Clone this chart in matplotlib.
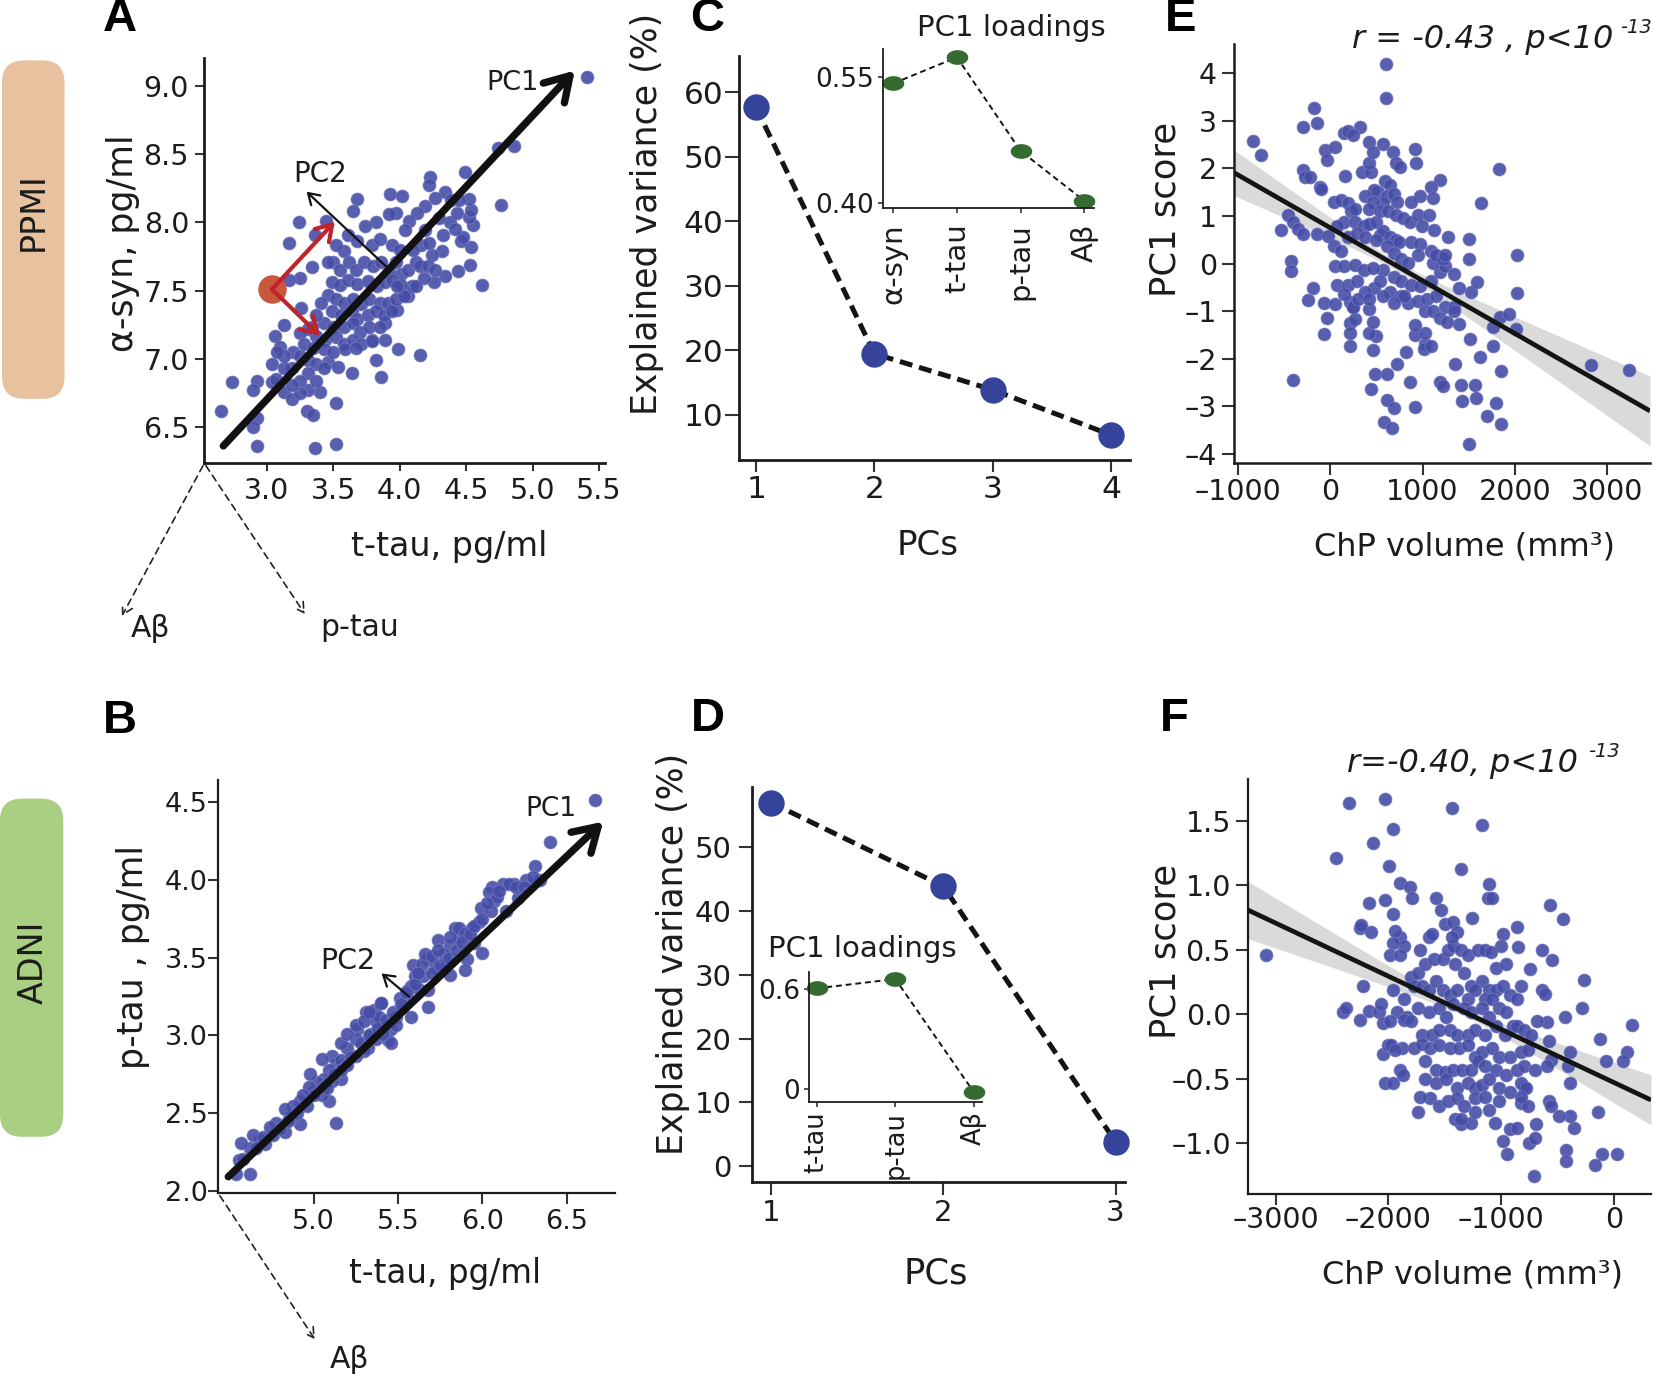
import numpy as np
import matplotlib
matplotlib.use("Agg")
import matplotlib.pyplot as plt
from matplotlib.patches import FancyBboxPatch, FancyArrowPatch
from matplotlib.transforms import IdentityTransform
from matplotlib.path import Path
from matplotlib.ticker import FuncFormatter, FixedLocator

# ---------------- data ----------------
# Panel A: PPMI alpha-syn vs t-tau
ppmi_ttau = [5.41, 4.74, 4.86, 4.76, 4.49, 4.23, 4.22, 3.93, 4.02, 3.68, 3.65, 3.24, 3.17, 3.45, 3.36, 3.34, 3.25, 3.17,
             3.26, 3.13, 3.06, 3.20, 3.10, 3.04, 2.93, 2.74, 2.90, 3.04, 3.13, 3.19, 2.66, 2.93, 2.90, 2.93, 3.30, 3.35,
             3.36, 3.52, 3.52, 3.40, 3.31, 3.46, 3.54, 3.64, 3.82, 3.86, 3.99, 4.15, 3.79, 3.89, 3.89, 3.98, 4.06, 4.09,
             4.62, 4.53, 4.44, 4.34, 4.26, 4.18, 4.54, 4.55, 4.52, 4.54, 4.52, 4.46, 4.48, 4.38, 4.34, 4.39, 4.27, 4.19,
             4.13, 4.07, 4.04, 3.97, 3.92, 3.82, 3.74, 4.32, 4.24, 4.16, 4.10, 4.33, 4.22, 3.61, 3.68, 3.79, 3.85, 3.94,
             4.00, 3.58, 3.50, 3.55, 3.62, 3.67, 3.73, 3.80, 3.86, 3.92, 3.97, 4.01,
             3.49, 3.55, 3.61, 3.68, 3.76, 3.83, 3.89, 3.94, 4.01,
             3.46, 3.52, 3.58, 3.65, 3.71, 3.77, 3.85, 3.91, 3.97, 4.03,
             3.41, 3.49, 3.56, 3.64, 3.68, 3.76, 3.82, 3.88, 3.94,
             3.43, 3.50, 3.58, 3.65, 3.70, 3.77, 3.85,
             3.37, 3.44, 3.52, 3.58, 3.65, 3.71, 3.79,
             3.31, 3.25, 3.28, 3.35, 3.43, 3.50, 3.59, 3.67,
             3.25, 3.31, 3.37, 3.43, 3.31, 3.37, 3.25, 3.19,
             3.13, 3.07, 3.25, 3.19, 3.13, 3.08, 3.37, 3.34, 3.52, 3.46,
             4.06, 4.12, 4.15, 4.21, 4.27, 4.12, 3.98, 4.19, 4.42, 4.43, 4.45, 4.30]
ppmi_asyn = [9.06, 8.54, 8.56, 8.13, 8.37, 8.33, 8.27, 8.21, 8.19, 8.17, 8.08, 8.00, 7.85, 8.01, 7.91, 7.67, 7.59, 7.58,
             7.37, 7.25, 7.17, 7.05, 7.09, 6.96, 6.84, 6.83, 6.77, 6.83, 6.76, 6.71, 6.62, 6.57, 6.50, 6.36, 6.62, 6.59,
             6.35, 6.38, 6.68, 6.76, 6.77, 6.98, 6.94, 6.90, 6.99, 6.87, 7.07, 7.03, 7.14, 7.14, 7.26, 7.36, 7.46, 7.53,
             7.54, 7.69, 7.64, 7.61, 7.56, 7.59, 7.82, 7.98, 8.04, 8.09, 8.17, 7.86, 7.89, 8.00, 8.22, 8.16, 8.18, 8.12,
             8.07, 8.01, 7.94, 8.07, 8.06, 8.00, 7.97, 7.79, 7.76, 7.83, 7.80, 7.91, 7.85, 7.91, 7.86, 7.83, 7.88, 7.83,
             7.80, 7.79, 7.71, 7.65, 7.71, 7.65, 7.71, 7.68, 7.71, 7.64, 7.71, 7.62,
             7.56, 7.54, 7.58, 7.55, 7.57, 7.53, 7.56, 7.58, 7.54,
             7.47, 7.44, 7.41, 7.44, 7.40, 7.44, 7.41, 7.41, 7.44, 7.46,
             7.41, 7.35, 7.32, 7.35, 7.29, 7.32, 7.35, 7.32, 7.35,
             7.26, 7.23, 7.23, 7.26, 7.20, 7.23, 7.23,
             7.17, 7.14, 7.16, 7.11, 7.14, 7.11, 7.13,
             7.22, 7.19, 7.11, 7.08, 7.07, 7.05, 7.07, 7.08,
             7.02, 6.99, 6.96, 6.93, 6.90, 6.84, 6.84, 6.93,
             6.93, 6.85, 6.75, 6.81, 7.02, 7.05, 7.32, 7.23, 7.83, 7.71,
             7.65, 7.71, 7.68, 7.68, 7.65, 7.53, 7.53, 7.94, 7.95, 8.07, 8.16, 8.03]

# Panel B: ADNI p-tau vs t-tau
adni_ttau = [6.67, 6.40, 6.31, 6.34, 6.21, 6.14, 6.19, 6.12, 6.06, 6.04, 6.07, 5.99, 6.05, 6.09, 6.16, 6.26,
             6.00, 5.95, 5.91, 5.90, 5.87, 5.84, 5.81, 5.79, 5.81, 5.77, 5.74, 5.72, 5.67, 5.65, 5.68, 5.68, 5.63, 5.59,
             5.58, 5.56, 5.58, 5.53, 5.49, 5.46, 5.44, 5.41, 5.40, 5.37, 5.34, 5.32, 5.31, 5.26, 5.25, 5.20, 5.18, 5.16,
             5.13, 5.16, 5.11, 5.09, 5.06, 5.13, 5.02, 4.99, 4.97, 4.96, 4.92, 4.92, 4.88, 4.86, 4.83, 4.83, 4.78, 4.76,
             4.74, 4.71, 4.68, 4.64, 4.62, 4.57, 4.56, 4.54, 4.62, 4.58,
             5.16, 5.20, 5.25, 5.30, 5.36, 5.39, 5.51, 5.56, 5.60, 5.64, 5.66, 5.70, 5.74, 5.81, 5.86, 5.90, 5.94, 5.98,
             5.37, 5.41, 5.46, 5.49, 5.30, 5.25, 5.20, 5.16, 5.11, 5.06, 5.09, 5.05,
             5.05, 4.98, 5.00, 4.94, 4.90, 4.85, 4.80, 4.70, 4.66, 5.08, 5.12, 5.22, 5.28, 5.33, 5.38, 5.43, 5.47, 5.52,
             5.55, 5.60, 5.62, 5.70, 5.75, 5.80, 5.85, 5.88, 5.93, 5.95, 6.00, 6.03, 6.10, 6.20, 6.25, 6.30, 5.33, 5.40]
adni_ptau = [4.51, 4.24, 4.09, 4.00, 3.88, 3.80, 3.97, 3.97, 3.95, 3.92, 3.86, 3.82, 3.80, 3.89, 3.97, 4.00,
             3.53, 3.59, 3.49, 3.42, 3.63, 3.69, 3.58, 3.46, 3.39, 3.52, 3.61, 3.43, 3.49, 3.38, 3.29, 3.18, 3.29, 3.45,
             3.32, 3.24, 3.12, 3.18, 3.12, 3.04, 2.97, 3.07, 3.21, 3.09, 3.01, 2.92, 3.15, 3.04, 2.98, 2.92, 2.81, 2.72,
             2.81, 2.95, 2.87, 2.78, 2.72, 2.44, 2.70, 2.64, 2.67, 2.55, 2.58, 2.43, 2.55, 2.47, 2.53, 2.38, 2.44, 2.36,
             2.41, 2.30, 2.33, 2.36, 2.28, 2.31, 2.20, 2.11, 2.11, 2.21,
             2.84, 3.01, 3.07, 3.09, 3.16, 3.12, 3.24, 3.29, 3.38, 3.46, 3.52, 3.51, 3.55, 3.63, 3.69, 3.66, 3.69, 3.73,
             2.98, 3.01, 2.95, 3.07, 2.90, 2.87, 2.81, 2.78, 2.71, 2.67, 2.58, 2.62,
             2.85, 2.75, 2.62, 2.62, 2.50, 2.45, 2.40, 2.35, 2.28, 2.66, 2.75, 2.86, 2.95, 3.00, 3.05, 3.10, 3.15, 3.20,
             3.28, 3.33, 3.40, 3.40, 3.45, 3.50, 3.55, 3.60, 3.65, 3.70, 3.75, 3.85, 3.93, 3.95, 3.95, 4.02, 3.15, 3.21]

# Panel C: PPMI explained variance and PC1 loadings
ppmi_pcs = [1, 2, 3, 4]
ppmi_explained = [57.7, 19.5, 13.9, 6.9]
ppmi_markers = ["\u03b1-syn", "t-tau", "p-tau", "A\u03b2"]
ppmi_loadings = [0.542, 0.573, 0.462, 0.403]

# Panel D: ADNI explained variance and PC1 loadings
adni_pcs = [1, 2, 3]
adni_explained = [57.0, 43.9, 3.8]
adni_markers = ["t-tau", "p-tau", "A\u03b2"]
adni_loadings = [0.604, 0.660, -0.02]

# Panel E: PPMI PC1 score vs ChP volume
ppmi_chp = [604, 604, -832, -752, -171, -140, -297, 326, 154, 192, 249, 421, 574, 681, 918, 929, 708, 757, -56, 58,
            -37, -297, -267, -217, -114, -95, 165, 345, 440, 421, 459, 1185, 1090, 1109, 975, 872, 1827, 1636, 1502,
            1502, 2025, 2025, 1281, -534, -458, -400, -343, -297, -144, -18, -419, -427, -190, -236, -68, -30, -68, 58,
            -400, 211, 249, 215, 211, 215, 268, 440, 490, 612, 620, 688, 585, 669, 459, 497, 421, 459, 421, 478, 574,
            727, 822, 918, 868, 918, 918, 1032, 1013, 1090, 1032, 1185, 1223, 1357, 1414, 1426, 1567, 1579, 1617, 1502,
            1701, 1796, 1846, 1846, 1766, 1395, 1510, 1529, 1586, 2828, 3236, 1842, 1938, 1758, 2014,
            39, 115, 192, 230, 268, 154, 77, 268, 364, 421, 497, 517, 478, 593, 650, 612, 688, 727, 574, 383, 459, 421,
            536, 631, 708, 784, 860, 956, 1070, 994, 536, 574, 650, 708, 746, 879, 975, 1090, 1128, 39, 115, 192, 287,
            383, 497, 612, 688, 765, 841, 956, 58, 154, 268, 364, 459, 688, 765, 879, 975, 1090, 1185, 1242, 1338, 77,
            192, 287, 383, 536, 650, 765, 841, 956, 1051, 1147, 1242, 1338, 1395, 154, 249, 306, 421, 574, 688, 803,
            1032, 1109, 1185, 1261, 1338, 1109, 1147, 1223, 1242]
ppmi_pc1 = [4.20, 3.48, 2.57, 2.28, 3.26, 2.96, 2.88, 2.88, 2.74, 2.78, 2.70, 2.55, 2.51, 2.35, 2.41, 2.12, 2.12, 2.04,
            2.39, 2.45, 2.17, 1.97, 1.82, 1.82, 1.62, 1.56, 1.85, 1.93, 1.93, 2.12, 2.35, 1.75, 1.62, 1.38, 1.42, 1.30,
            1.98, 1.27, 0.52, 0.10, 0.19, -0.62, 0.57, 0.71, 1.02, 0.88, 0.72, 0.63, 0.63, 0.58, 0.06, -0.15, -0.52,
            -0.77, -0.83, -1.14, -1.47, -0.85, -2.45, -0.80, -0.91, -1.24, -1.46, -1.73, -1.16, -2.64, -2.31, -2.31,
            -2.87, -3.04, -3.32, -3.46, -1.81, -1.53, -1.45, -1.22, -0.95, -0.52, -0.13, -2.11, -1.86, -3.01, -2.48,
            -1.49, -1.28, -1.68, -1.80, -1.72, -1.45, -2.48, -2.58, -2.10, -2.54, -2.89, -2.54, -2.82, -1.96, -3.79,
            -3.20, -2.93, -3.36, -2.26, -1.72, -1.26, -1.59, -0.60, -0.38, -2.14, -2.23, -1.13, -1.06, -1.34, -1.37,
            1.30, 1.34, 1.27, 1.11, 1.15, 0.88, 0.80, 0.88, 0.80, 0.84, 0.88, 1.50, 1.54, 1.73, 1.65, 1.42, 1.46, 1.30,
            1.27, 1.42, 1.30, 1.15, 1.11, 1.11, 1.03, 0.96, 0.88, 1.03, 1.03, 0.80, 0.61, 0.68, 0.57, 0.49, 0.45, 0.45,
            0.41, 0.26, 0.71, 0.37, 0.26, 0.57, 0.64, 0.57, 0.49, 0.37, 0.22, 0.10, 0.02, 0.18, -0.04, -0.05, -0.02,
            -0.13, -0.09, -0.29, -0.37, -0.44, -0.48, -0.37, -0.17, -0.05, -0.21, -0.44, -0.44, -0.37, -0.60, -0.37,
            -0.60, -0.68, -0.83, -0.79, -0.75, -0.68, -0.91, -0.91, -0.52, -0.64, -0.91, -0.75, -0.75, -0.68, -0.83,
            -0.68, -0.99, -0.99, -1.14, -1.22, -0.99, 0.02, 0.18, 0.10, 0.18]
ppmi_fit = (0.755, -0.001112)          # intercept, slope of the drawn regression line
ppmi_ci = (725.0, 0.10, 7.07e-8)       # centre x, narrowest half-width, curvature of the band

# Panel F: ADNI PC1 score vs ChP volume
adni_chp = [-3085, -2464, -2348, -2026, -1963, -2135, -1994, -1433, -1167, -1361, -1105, -1117, -1079, -1900, -1813,
            -1791, -2026, -2170, -1963, -1574, -1534, -1258, -572, -453, -265, -281, 158, -124, 111, 80, -71, -140,
            -108, 23, -165, -428, -428, -359, -390, -484, -948, -985, -1054, -923, -860, -751, -704, -688, -710, -1361,
            -1408, -1267, -1737, -1628, -1722, -2026, -1957, -1894, -1869, -2254, -2151, -2239, -2223, -2254, -2402,
            -2380, -2176, -2082, -2051, -2066, -2051, -2004, -1973, -1878, -1941, -741, -641, -547, -860, -854, -985,
            -1001, -641, -610, -434, -594, -682, -578, -563, -594, -390, -406, -390, -578, -563, -829, -766, -797, -829,
            -782,
            -1894, -1863, -1941, -1957, -1988, -1894, -1800, -1737, -1675, -1596, -1518, -1471, -1424, -1361, -1299,
            -1205, -1142, -1095, -1048, -954, -1722, -1643, -1612, -1502, -1424, -1393, -1440, -1408, -1330, -1267,
            -1173, -1111, -1048, -985, -923, -829, -860, -1957, -1863, -1769, -1706, -1643, -1581, -1518, -1455, -1393,
            -1299, -1236, -1142, -1079, -1925, -1831, -1737, -1643, -1549, -1487, -1424, -1330, -1267, -1173, -1111,
            -1017, -954, -892, -1988, -1863, -1800, -1706, -1612, -1549, -1455, -1393, -1299, -1236, -1142, -1048,
            -970, -860, -797, -735, -1769, -1706, -1628, -1549, -1455, -1377, -1299, -1236, -1173, -1079, -1017, -923,
            -829, -766, -1675, -1581, -1502, -1424, -1346, -1267, -1205, -1142, -1048, -954, -860, -797, -704, -1675,
            -1581, -1487, -1393, -1299, -1236, -1173, -1111, -1017, -923, -829, -1549, -1471, -1393, -1330, -1236,
            -1142, -1017, -1111, -1236, -1361]
adni_pc1 = [0.46, 1.21, 1.64, 1.67, 1.44, 1.33, 1.15, 1.60, 1.47, 1.13, 1.01, 0.90, 0.90, 1.02, 0.99, 0.90, 0.89, 0.86,
            0.78, 0.90, 0.81, 0.75, 0.85, 0.74, 0.27, 0.05, -0.08, -0.19, -0.29, -0.36, -0.36, -0.76, -1.08, -1.08,
            -1.17, -1.05, -1.14, -0.88, -0.79, -0.79, -1.08, -0.98, -0.84, -0.89, -0.88, -1.00, -0.96, -0.85, -1.25,
            -0.85, -0.81, -0.84, -0.76, -0.65, -0.64, -0.53, -0.53, -0.43, -0.47, 0.67, 0.64, 0.69, 0.22, -0.04, 0.02,
            0.05, 0.03, 0.02, -0.07, 0.08, -0.31, -0.24, -0.24, -0.26, -0.28, 0.35, 0.50, 0.42, 0.68, 0.52, 0.62, 0.53,
            0.19, 0.16, -0.02, -0.06, -0.05, -0.21, -0.35, -0.40, -0.29, -0.40, -0.53, -0.67, -0.71, -0.69, -0.71,
            -0.56, -0.53, -0.57,
            0.60, 0.53, 0.65, 0.55, 0.46, 0.46, 0.29, 0.32, 0.39, 0.43, 0.43, 0.50, 0.53, 0.50, 0.46, 0.50, 0.50, 0.48,
            0.36, 0.39, 0.50, 0.60, 0.62, 0.70, 0.72, 0.64, 0.60, 0.39, 0.32, 0.22, 0.26, 0.19, 0.19, 0.22, 0.15, 0.22,
            0.12, 0.19, 0.12, 0.22, 0.22, 0.19, 0.26, 0.19, 0.15, 0.19, 0.12, 0.19, 0.12, 0.12, 0.02, -0.02, 0.05, 0.02,
            0.05, -0.02, 0.08, 0.05, 0.02, 0.05, -0.02, 0.05, 0.02, -0.09, -0.05, -0.04, -0.05, -0.16, -0.16, -0.12,
            -0.12, -0.16, -0.16, -0.12, -0.16, -0.09, -0.16, -0.09, -0.12, -0.16, -0.26, -0.23, -0.26, -0.24, -0.26,
            -0.26, -0.24, -0.33, -0.29, -0.26, -0.33, -0.33, -0.29, -0.28, -0.36, -0.43, -0.45, -0.43, -0.43, -0.43,
            -0.36, -0.40, -0.43, -0.47, -0.43, -0.40, -0.43, -0.50, -0.53, -0.50, -0.57, -0.53, -0.57, -0.55, -0.50,
            -0.57, -0.60, -0.64, -0.71, -0.67, -0.65, -0.71, -0.65, -0.64, -0.67, -0.74, -0.76, -0.81]
adni_fit = (-0.529, -0.0004124)
adni_ci = (-1337.0, 0.03, 1.327e-8)

# ---------------- styling ----------------
W, H = 1654, 1374
plt.rcParams["font.family"] = ["DejaVu Sans"]
plt.rcParams["axes.unicode_minus"] = False
INK = "#1c1c1c"
DOT = "#464DA6"
PCBLUE = "#36439B"
GREEN = "#356B30"

fig = plt.figure(figsize=(W / 100, H / 100), dpi=100)


def box(l, t, r, b):
    return [l / W, 1 - b / H, (r - l) / W, (b - t) / H]


def fxy(x, y):
    return (x / W, 1 - y / H)


def dash_fmt(fmt):
    return FuncFormatter(lambda v, p: (fmt % v).replace("-", "\u2013"))


def style(ax, lw, fs, ylen, ypad, xlen, xpad, tw=1.5):
    for s in ("top", "right"):
        ax.spines[s].set_visible(False)
    for s in ("left", "bottom"):
        ax.spines[s].set_linewidth(lw)
        ax.spines[s].set_color(INK)
    ax.tick_params(axis="y", length=ylen, width=tw, pad=ypad, labelsize=fs, color="#333333", labelcolor=INK)
    ax.tick_params(axis="x", length=xlen, width=tw, pad=xpad, labelsize=fs, color="#333333", labelcolor=INK)
    ax.patch.set_alpha(0)


def label(x, y, s, fs, rot=0, ha="center", va="baseline", **kw):
    fig.text(x / W, 1 - y / H, s, fontsize=fs, rotation=rot, ha=ha, va=va, color=INK, **kw)


def arrow(ax, start, end, lw, color, hl, hw, ms=20, **kw):
    ax.annotate("", xy=end, xytext=start, annotation_clip=False,
                arrowprops=dict(arrowstyle=f"->,head_length={hl},head_width={hw}", lw=lw, color=color,
                                shrinkA=0, shrinkB=0, mutation_scale=ms, capstyle="round", **kw))


def fig_arrow(p0, p1):
    a = FancyArrowPatch(posA=fxy(*p0), posB=fxy(*p1), transform=fig.transFigure,
                        arrowstyle="->,head_length=0.35,head_width=0.2", mutation_scale=20,
                        lw=1.2, linestyle=(0, (4, 3)), color="#222222")
    fig.add_artist(a)


theta = np.linspace(0, 2 * np.pi, 61)
ellipse = Path(np.column_stack([np.cos(theta), 0.66 * np.sin(theta)]))
scat = dict(s=88, color=DOT, alpha=0.9, edgecolors="#7B81C2", linewidths=0.5, zorder=3)

# row labels
for (x0, y0, w, h), txt, col, cy in [((2, 60.4, 62.5, 338.4), "PPMI", "#E8C19F", 212),
                                     ((0, 798.6, 63.3, 338.2), "ADNI", "#A9CF83", 962)]:
    fig.add_artist(FancyBboxPatch((x0, H - y0 - h), w, h, boxstyle="round,pad=0,rounding_size=22",
                                  transform=IdentityTransform(), facecolor=col, edgecolor="none"))
    label(33.5, cy, txt, 24, rot=90, va="center")

# panel letters
for t, x, y in [("A", 120, 19.4), ("C", 707.5, 18.8), ("E", 1181, 19.4),
                ("B", 120, 721), ("D", 708.3, 719), ("F", 1174, 719)]:
    fig.text(x / W, 1 - y / H, t, fontsize=34, fontweight="bold", family="Liberation Sans",
             ha="center", va="center", color="black")

# ---------------- Panel A ----------------
axA = fig.add_axes(box(204.3, 58.3, 605, 463.3))
axA.scatter(ppmi_ttau, ppmi_asyn, **scat)
axA.set_xlim(2.531, 5.545)
axA.set_ylim(6.236, 9.20)
axA.xaxis.set_major_locator(FixedLocator([3.0, 3.5, 4.0, 4.5, 5.0, 5.5]))
axA.yaxis.set_major_locator(FixedLocator([6.5, 7.0, 7.5, 8.0, 8.5, 9.0]))
axA.xaxis.set_major_formatter(dash_fmt("%.1f"))
axA.yaxis.set_major_formatter(dash_fmt("%.1f"))
style(axA, 2.0, 20.5, 6.5, 4.5, 6, 4)
arrow(axA, (2.674, 6.363), (5.318, 9.11), 5.3, "#111111", 0.85, 0.52)
arrow(axA, (3.90, 7.675), (3.30, 8.224), 1.6, "#111111", 0.38, 0.24)
axA.plot([3.04], [7.51], "o", ms=19.5, color="#C8573C", zorder=5)
arrow(axA, (3.04, 7.51), (3.513, 8.005), 3.0, "#C0232A", 0.55, 0.35)
arrow(axA, (3.04, 7.51), (3.40, 7.17), 3.0, "#C0232A", 0.55, 0.35)
for a in axA.texts:
    a.set_zorder(6)
label(486, 90, "PC1", 19.5, ha="left")
label(293, 182, "PC2", 20, ha="left")
label(448.7, 556, "t-tau, pg/ml", 24)
label(123.5, 243, "\u03b1-syn, pg/ml", 25, rot=90, va="center")
fig_arrow((204.3, 463.3), (120.6, 618.4))
fig_arrow((204.3, 463.3), (306.4, 616.3))
label(130.5, 636.7, "A\u03b2", 21.5, ha="left")
label(320, 636, "p-tau", 21.5, ha="left")

# ---------------- Panel B ----------------
axB = fig.add_axes(box(218.3, 779.6, 614.9, 1193.4))
axB.scatter(adni_ttau, adni_ptau, **scat)
axB.set_xlim(4.435, 6.786)
axB.set_ylim(1.986, 4.642)
axB.xaxis.set_major_locator(FixedLocator([5.0, 5.5, 6.0, 6.5]))
axB.yaxis.set_major_locator(FixedLocator([2.0, 2.5, 3.0, 3.5, 4.0, 4.5]))
axB.xaxis.set_major_formatter(dash_fmt("%.1f"))
axB.yaxis.set_major_formatter(dash_fmt("%.1f"))
style(axB, 1.6, 19.5, 7, 0.5, 8, 3)
arrow(axB, (4.494, 2.093), (6.717, 4.372), 5.3, "#111111", 0.85, 0.52)
arrow(axB, (5.567, 3.248), (5.403, 3.398), 1.6, "#111111", 0.38, 0.24)
label(525, 816, "PC1", 19, ha="left")
label(320, 969, "PC2", 20.5, ha="left")
label(444.8, 1283, "t-tau, pg/ml", 23.5)
label(133.5, 956.7, "p-tau , pg/ml", 25, rot=90, va="center")
fig_arrow((218.3, 1193.4), (316.4, 1341.6))
label(330, 1368, "A\u03b2", 21.5, ha="left")

# ---------------- Panel C ----------------
axC = fig.add_axes(box(739, 55.7, 1130, 460))
axC.plot(ppmi_pcs, ppmi_explained, ls=(0, (2.6, 1.4)), lw=3.6, color="#141414", marker="o", ms=18,
         mfc=PCBLUE, mec=PCBLUE, clip_on=False, zorder=3)
axC.set_xlim(0.856, 4.16)
axC.set_ylim(3.02, 65.7)
axC.xaxis.set_major_locator(FixedLocator(ppmi_pcs))
axC.yaxis.set_major_locator(FixedLocator([10, 20, 30, 40, 50, 60]))
style(axC, 2.0, 22.5, 10, 1, 8.6, 2.5)
label(928, 555, "PCs", 24.5)
label(646.5, 214, "Explained variance (%)", 25, rot=90, va="center")

axCi = fig.add_axes(box(882.7, 49.3, 1094.3, 207.7))
axCi.plot(range(1, len(ppmi_loadings) + 1), ppmi_loadings, ls=(0, (3, 2)), lw=1.4, color="#141414",
          marker=ellipse, ms=14.5, mfc=GREEN, mec=GREEN, clip_on=False)
axCi.set_xlim(0.834, 4.157)
axCi.set_ylim(0.3948, 0.5824)
axCi.xaxis.set_major_locator(FixedLocator([1, 2, 3, 4]))
axCi.set_xticklabels(ppmi_markers, rotation=90)
axCi.yaxis.set_major_locator(FixedLocator([0.40, 0.55]))
axCi.yaxis.set_major_formatter(dash_fmt("%.2f"))
style(axCi, 1.3, 19, 3.5, 3, 3.5, 8, tw=1.2)
axCi.tick_params(axis="x", labelsize=21)
label(1011, 36.5, "PC1 loadings", 21)

# ---------------- Panel D ----------------
axD = fig.add_axes(box(751.7, 786.7, 1125, 1182.4))
axD.plot(adni_pcs, adni_explained, ls=(0, (2.6, 1.4)), lw=3.6, color="#141414", marker="o", ms=18,
         mfc=PCBLUE, mec=PCBLUE, clip_on=False, zorder=3)
axD.set_xlim(0.888, 3.055)
axD.set_ylim(-2.57, 59.5)
axD.xaxis.set_major_locator(FixedLocator(adni_pcs))
axD.yaxis.set_major_locator(FixedLocator([0, 10, 20, 30, 40, 50]))
style(axD, 2.0, 21, 9.4, 5, 9.4, 2.5)
label(935.8, 1284, "PCs", 25.5)
label(672.5, 954, "Explained variance (%)", 25, rot=90, va="center")

axDi = fig.add_axes(box(809, 971.7, 982.3, 1102.3))
axDi.plot(range(1, len(adni_loadings) + 1), adni_loadings, ls=(0, (3, 2)), lw=1.4, color="#141414",
          marker=ellipse, ms=14.5, mfc=GREEN, mec=GREEN, clip_on=False)
axDi.set_xlim(0.902, 3.106)
axDi.set_ylim(-0.08, 0.704)
axDi.xaxis.set_major_locator(FixedLocator([1, 2, 3]))
axDi.set_xticklabels(adni_markers, rotation=90)
axDi.yaxis.set_major_locator(FixedLocator([0.0, 0.6]))
axDi.yaxis.set_major_formatter(FuncFormatter(lambda v, p: "0" if v == 0 else "%.1f" % v))
style(axDi, 1.3, 19, 3.5, 3, 3.5, 3, tw=1.2)
axDi.tick_params(axis="x", labelsize=18.5)
label(862, 956.7, "PC1 loadings", 21)


# ---------------- Panels E and F ----------------
def reg_panel(rect, x, y, fit, ci, xlim, ylim, xt, yt, yfmt):
    ax = fig.add_axes(box(*rect))
    xs = np.linspace(xlim[0], xlim[1], 200)
    yl = fit[0] + fit[1] * xs
    hw = np.sqrt(ci[1] ** 2 + ci[2] * (xs - ci[0]) ** 2)
    ax.fill_between(xs, yl - hw, yl + hw, color="#DADADA", lw=0, zorder=1)
    ax.scatter(x, y, **scat)
    ax.plot(xs, yl, color="#141414", lw=3.4, zorder=4, solid_capstyle="butt")
    ax.set_xlim(*xlim)
    ax.set_ylim(*ylim)
    ax.xaxis.set_major_locator(FixedLocator(xt))
    ax.yaxis.set_major_locator(FixedLocator(yt))
    ax.xaxis.set_major_formatter(dash_fmt("%d"))
    ax.yaxis.set_major_formatter(dash_fmt(yfmt))
    return ax


axE = reg_panel((1234, 44, 1650, 463.3), ppmi_chp, ppmi_pc1, ppmi_fit, ppmi_ci, (-1040, 3462), (-4.195, 4.615),
                [-1000, 0, 1000, 2000, 3000], [-4, -3, -2, -1, 0, 1, 2, 3, 4], "%d")
style(axE, 1.8, 20.5, 8.4, 4, 8.4, 2)
label(1165, 209, "PC1 score", 25.5, rot=90, va="center")
label(1464, 555, "ChP volume (mm\u00b3)", 23)
label(1613, 48.3, "r = -0.43 , p<10", 23, ha="right", style="italic")
label(1652, 33, "-13", 14, ha="right", style="italic")

axF = reg_panel((1247.7, 779.3, 1651, 1193.5), adni_chp, adni_pc1, adni_fit, adni_ci, (-3247, 327), (-1.389, 1.823),
                [-3000, -2000, -1000, 0], [-1.0, -0.5, 0.0, 0.5, 1.0, 1.5], "%.1f")
style(axF, 1.6, 20.5, 9, 3, 8, 1)
label(1166, 951, "PC1 score", 25.5, rot=90, va="center")
label(1472, 1284, "ChP volume (mm\u00b3)", 23)
label(1578.3, 771.7, "r=-0.40, p<10", 23, ha="right", style="italic")
label(1588.3, 757, "-13", 14, ha="left", style="italic")

fig.savefig("out.png", dpi=100)
